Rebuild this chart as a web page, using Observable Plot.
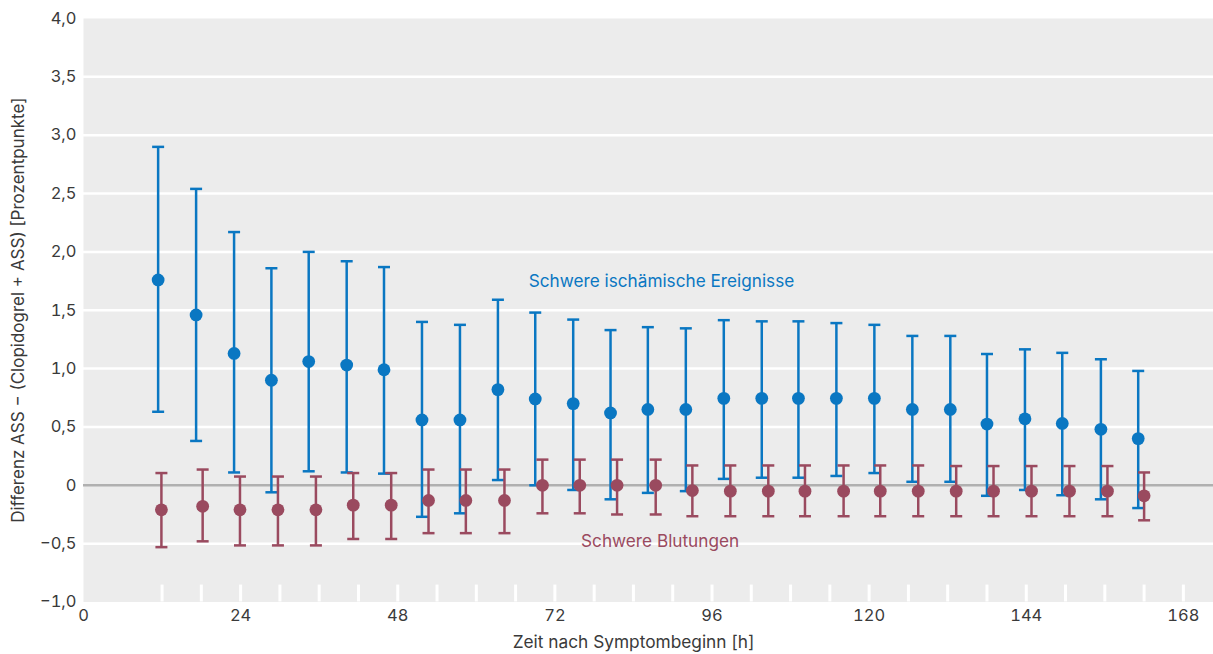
<!DOCTYPE html>
<html>
<head>
<meta charset="utf-8">
<script src="https://cdn.jsdelivr.net/npm/d3@7"></script>
<script src="https://cdn.jsdelivr.net/npm/@observablehq/plot@0.6"></script>
<style>
  html, body { margin: 0; padding: 0; background: #ffffff; }
  #chart svg { display: block; }
</style>
</head>
<body>
<div id="chart"></div>
<script>
// Schwere ischämische Ereignisse (blau)
const ischemicHours = [11.4, 17.2, 23.0, 28.7, 34.4, 40.2, 45.9, 51.7, 57.5, 63.3, 69.0, 74.8, 80.5, 86.2, 92.0, 97.8, 103.6, 109.2, 115.0, 120.8, 126.6, 132.4, 138.0, 143.8, 149.5, 155.4, 161.1];
const ischemicMean = [1.76, 1.46, 1.13, 0.90, 1.06, 1.03, 0.99, 0.56, 0.56, 0.82, 0.74, 0.70, 0.62, 0.65, 0.65, 0.745, 0.745, 0.745, 0.745, 0.745, 0.65, 0.65, 0.525, 0.57, 0.53, 0.48, 0.40];
const ischemicHigh = [2.90, 2.54, 2.17, 1.86, 2.00, 1.92, 1.87, 1.40, 1.375, 1.59, 1.48, 1.42, 1.33, 1.355, 1.345, 1.415, 1.405, 1.405, 1.39, 1.375, 1.28, 1.28, 1.125, 1.165, 1.135, 1.08, 0.98];
const ischemicLow = [0.63, 0.38, 0.11, -0.06, 0.12, 0.11, 0.10, -0.27, -0.24, 0.045, 0.0, -0.04, -0.12, -0.065, -0.05, 0.055, 0.065, 0.065, 0.08, 0.105, 0.03, 0.03, -0.09, -0.04, -0.085, -0.12, -0.195];

// Schwere Blutungen (rot)
const bleedingHours = [11.9, 18.2, 23.9, 29.7, 35.5, 41.2, 47.0, 52.7, 58.4, 64.3, 70.1, 75.8, 81.5, 87.4, 93.0, 98.8, 104.6, 110.2, 116.1, 121.7, 127.5, 133.3, 139.0, 144.8, 150.6, 156.4, 162.0];
const bleedingMean = [-0.21, -0.18, -0.21, -0.21, -0.21, -0.17, -0.17, -0.13, -0.13, -0.13, 0.0, 0.0, 0.0, 0.0, -0.045, -0.05, -0.05, -0.05, -0.05, -0.05, -0.05, -0.05, -0.05, -0.05, -0.05, -0.05, -0.09];
const bleedingHigh = [0.105, 0.135, 0.075, 0.075, 0.075, 0.105, 0.105, 0.135, 0.135, 0.135, 0.22, 0.22, 0.22, 0.22, 0.17, 0.17, 0.17, 0.17, 0.17, 0.17, 0.17, 0.165, 0.165, 0.165, 0.165, 0.165, 0.11];
const bleedingLow = [-0.53, -0.48, -0.515, -0.515, -0.515, -0.46, -0.46, -0.41, -0.41, -0.41, -0.24, -0.24, -0.25, -0.25, -0.265, -0.265, -0.265, -0.265, -0.265, -0.265, -0.265, -0.265, -0.265, -0.265, -0.265, -0.265, -0.30];

// Achsen
const xTicks = [0, 24, 48, 72, 96, 120, 144, 168];
const xMinorTicks = [12, 18, 24, 30, 36, 42, 48, 54, 60, 66, 72, 78, 84, 90, 96, 102, 108, 114, 120, 126, 132, 138, 144, 150, 156, 162, 168];
const yTicks = [-1, -0.5, 0, 0.5, 1, 1.5, 2, 2.5, 3, 3.5, 4];
const gridLines = [-0.5, 0.5, 1, 1.5, 2, 2.5, 3, 3.5];

const seriesLabels = ["Schwere ischämische Ereignisse", "Schwere Blutungen"];
const xLabel = "Zeit nach Symptombeginn [h]";
const yLabel = "Differenz ASS − (Clopidogrel + ASS) [Prozentpunkte]";

const BLUE = "#0a77c2";
const RED = "#9a4a5f";
const TEXT = "#3a3a3a";

const ischemic = ischemicHours.map((h, i) => ({h, m: ischemicMean[i], hi: ischemicHigh[i], lo: ischemicLow[i]}));
const bleeding = bleedingHours.map((h, i) => ({h, m: bleedingMean[i], hi: bleedingHigh[i], lo: bleedingLow[i]}));

const capSymbol = {
  draw(context, size) {
    const w = Math.sqrt(size / Math.PI);
    context.moveTo(-w, 0);
    context.lineTo(w, 0);
  }
};

const fmtY = d => d === 0 ? "0" : d.toFixed(1).replace(".", ",").replace("-", "−");

function errorMarks(data, color) {
  return [
    Plot.ruleX(data, {x: "h", y1: "lo", y2: "hi", stroke: color, strokeWidth: 2.5}),
    Plot.dot(data, {x: "h", y: "hi", symbol: capSymbol, r: 6, stroke: color, strokeWidth: 2.5, fill: "none"}),
    Plot.dot(data, {x: "h", y: "lo", symbol: capSymbol, r: 6, stroke: color, strokeWidth: 2.5, fill: "none"}),
    Plot.dot(data, {x: "h", y: "m", r: 6.4, fill: color, stroke: "none"})
  ];
}

const chart = Plot.plot({
  width: 1213,
  height: 654,
  marginLeft: 83,
  marginRight: 0,
  marginTop: 18,
  marginBottom: 52.5,
  style: {fontFamily: "Inter, 'Noto Sans', sans-serif", fontSize: "16.5px", color: TEXT, background: "transparent"},
  x: {domain: [0, 172.6], ticks: xTicks, tickSize: 0, tickPadding: 7, label: null, tickFormat: d => String(d)},
  y: {domain: [-1, 4], ticks: yTicks, tickSize: 0, tickPadding: 7, label: null, tickFormat: fmtY},
  marks: [
    Plot.frame({fill: "#ececec", stroke: "none"}),
    Plot.ruleY(gridLines, {stroke: "#ffffff", strokeWidth: 2.5}),
    Plot.ruleY([0], {stroke: "#b0b0b0", strokeWidth: 2.5}),
    Plot.ruleX(xMinorTicks, {y1: -1, y2: -0.855, stroke: "#ffffff", strokeWidth: 3}),
    ...errorMarks(ischemic, BLUE),
    ...errorMarks(bleeding, RED),
    Plot.text([seriesLabels[0]], {x: 68, y: 1.75, text: d => d, fill: BLUE, textAnchor: "start", fontSize: 17.2}),
    Plot.text([seriesLabels[1]], {x: 76, y: -0.48, text: d => d, fill: RED, textAnchor: "start", fontSize: 17.2}),
    Plot.text([xLabel], {x: 84, frameAnchor: "bottom", dy: 40, lineAnchor: "middle", text: d => d, fill: TEXT, fontSize: 17.3}),
    Plot.text([yLabel], {frameAnchor: "left", dx: -65, rotate: -90, textAnchor: "middle", lineAnchor: "middle", text: d => d, fill: TEXT, fontSize: 17})
  ]
});

document.getElementById("chart").appendChild(chart);
</script>
</body>
</html>
